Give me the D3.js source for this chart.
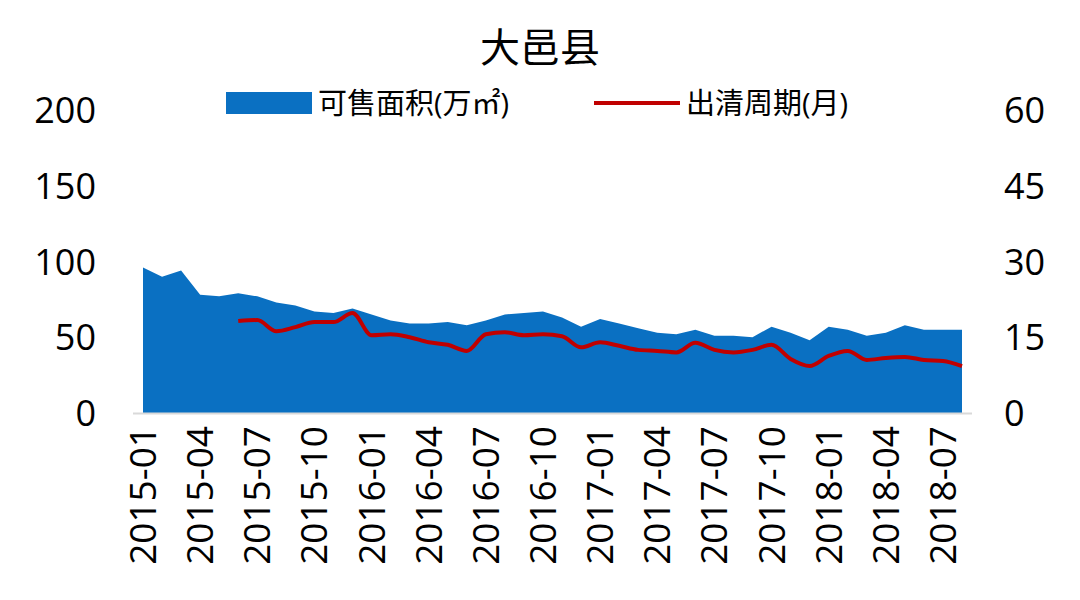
<!DOCTYPE html>
<html><head><meta charset="utf-8">
<script src="https://cdn.jsdelivr.net/npm/d3@7"></script>
<style>body{margin:0;background:#fff}text{font-family:"Open Sans","Noto Sans CJK SC",sans-serif}</style>
</head><body>
<svg width="1080" height="600"></svg>
<script>
const months = d3.range(44).map(i => {
    const y = 2015 + Math.floor(i / 12), m = i % 12 + 1;
    return y + '-' + (m < 10 ? '0' + m : m);
});
const stock = [96,90,94,78,77,79,77,73,71,67,66,69,65,61,59,59,60,58,61,65,66,67,63,57,
    62,59,56,53,52,55,51,51,50,57,53,48,57,55,51,53,58,55,55,55];
const cycle = [null,null,null,null,null,18.2,18.4,16.2,17,18,18,19.8,15.4,15.6,15,14,13.5,12.3,15.6,16,15.4,15.6,15.2,13,
    14,13.3,12.5,12.3,12,13.9,12.5,12,12.5,13.5,10.7,9.3,11.3,12.3,10.5,10.9,11.1,10.5,10.3,9.3];
const leftTicks = [0,50,100,150,200];
const rightTicks = [0,15,30,45,60];

const svg = d3.select('svg');
const x = d3.scalePoint().domain(months).range([143, 962]);
const yL = d3.scaleLinear().domain([0,200]).range([413,110]);
const yR = d3.scaleLinear().domain([0,60]).range([413,110]);

svg.append('path')
    .datum(stock)
    .attr('fill', '#0a70c2')
    .attr('d', d3.area().x((d,i) => x(months[i])).y0(yL(0)).y1(d => yL(d)));

svg.append('path')
    .datum(cycle)
    .attr('fill', 'none').attr('stroke', '#c00000').attr('stroke-width', 4)
    .attr('stroke-linejoin', 'round')
    .attr('d', d3.line().defined(d => d != null).curve(d3.curveMonotoneX)
        .x((d,i) => x(months[i])).y(d => yR(d)));

svg.append('line').attr('x1', 133).attr('x2', 972).attr('y1', 413.5).attr('y2', 413.5)
    .attr('stroke', '#d9d9d9').attr('stroke-width', 2);

svg.selectAll('.lt').data(leftTicks).enter().append('text')
    .attr('x', 96).attr('y', d => yL(d) + 13).attr('text-anchor', 'end')
    .attr('font-size', 36).text(d => d);
svg.selectAll('.rt').data(rightTicks).enter().append('text')
    .attr('x', 1004).attr('y', d => yR(d) + 13).attr('text-anchor', 'start')
    .attr('font-size', 36).text(d => d);

svg.selectAll('.xt').data(months.filter((d,i) => i % 3 === 0)).enter().append('text')
    .attr('transform', d => `translate(${x(d) + 13},426) rotate(-90)`)
    .attr('text-anchor', 'end').attr('font-size', 37).text(d => d);

svg.append('text').attr('x', 540).attr('y', 62).attr('text-anchor', 'middle')
    .attr('font-size', 40).text('大邑县');

svg.append('rect').attr('x', 226).attr('y', 92).attr('width', 86).attr('height', 22).attr('fill', '#0a70c2');
svg.append('text').attr('x', 318).attr('y', 114).attr('font-size', 29).text('可售面积(万㎡)');
svg.append('line').attr('x1', 594).attr('x2', 680).attr('y1', 103).attr('y2', 103)
    .attr('stroke', '#c00000').attr('stroke-width', 4);
svg.append('text').attr('x', 686).attr('y', 114).attr('font-size', 29).text('出清周期(月)');
</script>
</body></html>
